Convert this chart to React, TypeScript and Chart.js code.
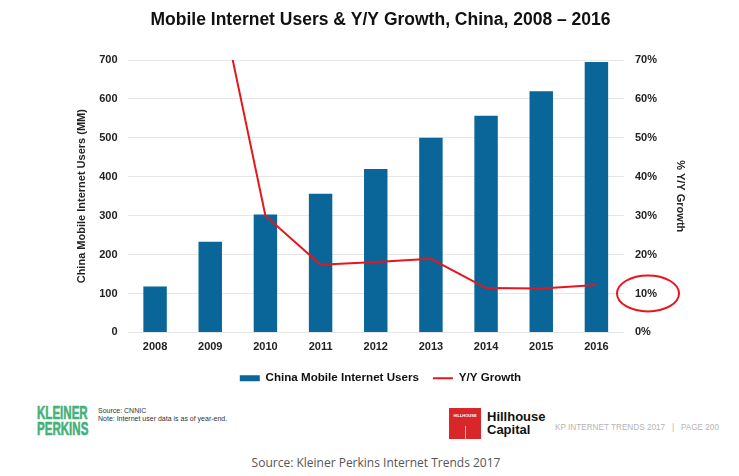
import React, { useEffect, useRef } from "react";
import { Chart, registerables } from "chart.js";

Chart.register(...registerables);

const years = ["2008", "2009", "2010", "2011", "2012", "2013", "2014", "2015", "2016"];
const users = [118, 233, 303, 356, 420, 500, 557, 620, 695];
const growth = [null, 97.5, 30.0, 17.4, 18.1, 18.9, 11.4, 11.3, 12.2];
const leftTicks = [0, 100, 200, 300, 400, 500, 600, 700];
const rightTicks = [0, 10, 20, 30, 40, 50, 60, 70];
const highlightValue = 10;

const FONT = "'Liberation Sans', Arial, Helvetica, sans-serif";
const BLUE = "#0a6699";
const RED = "#e5161d";

const circlePlugin = {
  id: "circleAnnot",
  afterDraw(chart: any) {
    const s = chart.scales.y1;
    if (!s) return;
    const ctx = chart.ctx;
    const cy = s.getPixelForValue(highlightValue);
    const cx = s.left + 24;
    ctx.save();
    ctx.beginPath();
    ctx.ellipse(cx, cy, 31, 18, 0, 0, Math.PI * 2);
    ctx.strokeStyle = RED;
    ctx.lineWidth = 2;
    ctx.stroke();
    ctx.restore();
  },
};

export default function App() {
  const ref = useRef<HTMLCanvasElement | null>(null);
  useEffect(() => {
    if (!ref.current) return;
    const chart = new Chart(ref.current, {
      type: "bar",
      data: {
        labels: years,
        datasets: [
          {
            type: "bar",
            label: "China Mobile Internet Users",
            data: users,
            backgroundColor: BLUE,
            yAxisID: "y",
            barPercentage: 0.85,
            categoryPercentage: 0.5,
            pointStyle: "rect",
            order: 2,
          } as any,
          {
            type: "line",
            label: "Y/Y Growth",
            data: growth,
            borderColor: RED,
            backgroundColor: RED,
            borderWidth: 2,
            pointRadius: 0,
            pointStyle: "line",
            tension: 0,
            yAxisID: "y1",
            order: 1,
          } as any,
        ],
      },
      options: {
        responsive: false,
        animation: false,
        layout: { padding: { left: 70, right: 48, top: 6, bottom: 6 } },
        plugins: {
          title: {
            display: true,
            text: "Mobile Internet Users & Y/Y Growth, China, 2008 – 2016",
            color: "#111",
            font: { family: FONT, size: 17.5, weight: "bold" },
            padding: { top: 4, bottom: 29 },
          },
          legend: {
            position: "bottom",
            labels: {
              usePointStyle: true,
              pointStyleWidth: 20,
              boxHeight: 6,
              color: "#111",
              font: { family: FONT, size: 11.6, weight: "bold" },
              padding: 14,
              sort: (a: any, b: any) => a.datasetIndex - b.datasetIndex,
            },
          },
          tooltip: { enabled: false },
        },
        scales: {
          x: {
            grid: { display: false, drawTicks: false },
            border: { display: false },
            ticks: {
              color: "#222",
              font: { family: FONT, size: 11, weight: "bold" },
              padding: 8,
            },
            afterFit: (s: any) => {
              s.height = 26;
            },
          },
          y: {
            position: "left",
            min: 0,
            max: 700,
            afterBuildTicks: (s: any) => {
              s.ticks = leftTicks.map((v) => ({ value: v }));
            },
            grid: { color: "#e6e6e6", drawTicks: false, lineWidth: 1 },
            border: { display: false },
            ticks: {
              color: "#222",
              font: { family: FONT, size: 11, weight: "bold" },
              padding: 10,
            },
            title: {
              display: true,
              text: "China Mobile Internet Users (MM)",
              color: "#222",
              font: { family: FONT, size: 11, weight: "bold" },
              padding: { top: 5, bottom: 4 },
            },
            afterFit: (s: any) => {
              s.width = 57.5;
            },
          },
          y1: {
            position: "right",
            min: 0,
            max: 70,
            afterBuildTicks: (s: any) => {
              s.ticks = rightTicks.map((v) => ({ value: v }));
            },
            grid: { display: false, drawTicks: false },
            border: { display: false },
            ticks: {
              color: "#222",
              font: { family: FONT, size: 11, weight: "bold" },
              padding: 11,
              callback: (v: any) => `${v}%`,
            },
            title: {
              display: true,
              text: "% Y/Y Growth",
              color: "#222",
              font: { family: FONT, size: 11, weight: "bold" },
              padding: { top: 4, bottom: 4 },
            },
            afterFit: (s: any) => {
              s.width = 67;
            },
          },
        },
      } as any,
      plugins: [circlePlugin],
    });
    return () => chart.destroy();
  }, []);

  return (
    <div style={{ position: "absolute", left: 0, top: 0, width: 739, height: 476, background: "#fff", overflow: "hidden", fontFamily: FONT }}>
      <canvas ref={ref} width={739} height={400} style={{ position: "absolute", left: 0, top: 0 }} />
      <div style={{ position: "absolute", left: 37, top: 405, color: "#45b079", fontFamily: FONT, fontWeight: "bold", fontSize: 17.5, lineHeight: "16px", transform: "scaleX(0.66)", transformOrigin: "0 0", whiteSpace: "nowrap", WebkitTextStroke: "0.6px #45b079" } as any}>
        <div>KLEINER</div>
        <div>PERKINS</div>
      </div>
      <div style={{ position: "absolute", left: 98, top: 407, color: "#333", fontSize: 7, lineHeight: "8px", whiteSpace: "nowrap" }}>
        <div>Source: CNNIC</div>
        <div>Note: Internet user data is as of year-end.</div>
      </div>
      <div style={{ position: "absolute", left: 449, top: 408, width: 32, height: 31, background: "#d9262b" }}>
        <div style={{ position: "absolute", left: 0, top: 5, width: 32, textAlign: "center", color: "#fff", fontSize: 4, fontWeight: "bold", lineHeight: "5px" }}>HILLHOUSE</div>
        <div style={{ position: "absolute", left: 16, top: 18, width: 1, height: 13, background: "#f3b0b2" }} />
      </div>
      <div style={{ position: "absolute", left: 487, top: 410, color: "#111", fontSize: 13, fontWeight: "bold", lineHeight: "13px" }}>
        <div>Hillhouse</div>
        <div>Capital</div>
      </div>
      <div style={{ position: "absolute", left: 555, top: 423, color: "#b5b5b5", fontSize: 8.2, lineHeight: "10px", whiteSpace: "nowrap" }}>
        KP INTERNET TRENDS 2017&nbsp;&nbsp;&nbsp;|&nbsp;&nbsp;&nbsp;PAGE 200
      </div>
      <div style={{ position: "absolute", left: 0, top: 455, width: 752, textAlign: "center", color: "#555", fontFamily: "'Open Sans', sans-serif", fontSize: 12, lineHeight: "16px" }}>
        Source: Kleiner Perkins Internet Trends 2017
      </div>
    </div>
  );
}
